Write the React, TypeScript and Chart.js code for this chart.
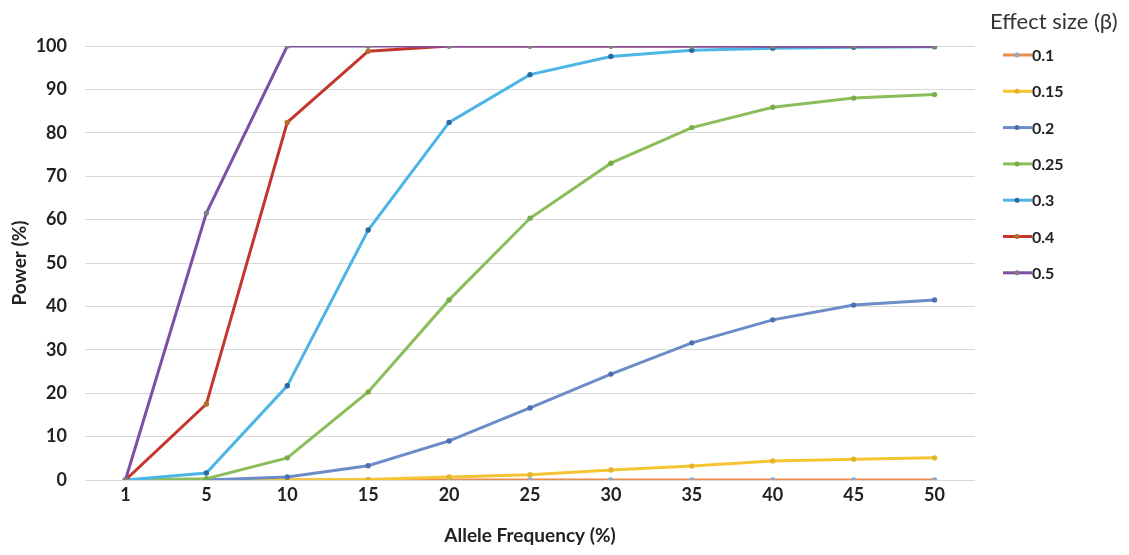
import React, { useEffect, useRef } from "react";
import { Chart, registerables } from "chart.js";

Chart.register(...registerables);

const categories = ["1", "5", "10", "15", "20", "25", "30", "35", "40", "45", "50"];
const seriesNames = ["0.1", "0.15", "0.2", "0.25", "0.3", "0.4", "0.5"];
const beta01 = [0, 0, 0, 0, 0, 0, 0, 0, 0, 0, 0];
const beta015 = [0, 0, 0, 0.1, 0.7, 1.2, 2.3, 3.2, 4.4, 4.8, 5.1];
const beta02 = [0, 0, 0.7, 3.3, 9, 16.6, 24.4, 31.6, 36.9, 40.3, 41.5];
const beta025 = [0, 0.3, 5.1, 20.3, 41.5, 60.3, 73, 81.2, 85.9, 88, 88.8];
const beta03 = [0, 1.6, 21.7, 57.6, 82.4, 93.4, 97.6, 99, 99.5, 99.7, 99.8];
const beta04 = [0, 17.5, 82.4, 98.8, 100, 100, 100, 100, 100, 100, 100];
const beta05 = [0, 61.5, 100, 100, 100, 100, 100, 100, 100, 100, 100];
const yTicks = [0, 10, 20, 30, 40, 50, 60, 70, 80, 90, 100];

const lineColors = ["#E98D4E", "#F4C432", "#6C8CC7", "#8BBE5B", "#4DB5E5", "#C4352C", "#7F4FA3"];
const pointColors = ["#8FA9C7", "#E3B42A", "#4B6FB0", "#79AC4B", "#2B6A9E", "#B0702A", "#808080"];

const FONT = "Lato, 'Open Sans', sans-serif";

const legendPlugin = {
  id: "customLegend",
  afterDraw(chart: any) {
    const ctx = chart.ctx;
    ctx.save();
    ctx.fillStyle = "#333";
    ctx.font = `22px ${FONT}`;
    ctx.textBaseline = "middle";
    ctx.textAlign = "left";
    ctx.fillText("Effect size (β)", 990, 22);
    chart.data.datasets.forEach((ds: any, i: number) => {
      const y = 55 + i * 36.3;
      ctx.strokeStyle = ds.borderColor;
      ctx.lineWidth = 3;
      ctx.beginPath();
      ctx.moveTo(1003, y);
      ctx.lineTo(1032, y);
      ctx.stroke();
      ctx.fillStyle = ds.pointBackgroundColor;
      ctx.beginPath();
      ctx.arc(1017, y, 2.5, 0, Math.PI * 2);
      ctx.fill();
      ctx.fillStyle = "#222";
      ctx.font = `bold 16px ${FONT}`;
      ctx.fillText(ds.label, 1032, y + 1);
    });
    ctx.restore();
  },
};

export default function App() {
  const ref = useRef<HTMLCanvasElement>(null);
  useEffect(() => {
    if (!ref.current) return;
    const seriesData = [beta01, beta015, beta02, beta025, beta03, beta04, beta05];
    const chart = new Chart(ref.current, {
      type: "line",
      data: {
        labels: categories,
        datasets: seriesNames.map((name, i) => ({
          label: name,
          data: seriesData[i],
          order: seriesNames.length - i,
          borderColor: lineColors[i],
          backgroundColor: lineColors[i],
          pointBackgroundColor: pointColors[i],
          pointBorderColor: pointColors[i],
          pointRadius: 2.7,
          pointBorderWidth: 0,
          borderWidth: 3,
          tension: 0,
        })),
      },
      options: {
        animation: false,
        responsive: false,
        maintainAspectRatio: false,
        layout: { padding: { left: 0, top: 46, right: 1129 - 975, bottom: 8 } },
        plugins: {
          legend: { display: false },
          tooltip: { enabled: false },
        },
        scales: {
          x: {
            type: "category",
            offset: true,
            grid: { display: false, drawTicks: false },
            border: { display: false },
            ticks: { color: "#222", font: { family: FONT, size: 18, weight: "bold" }, padding: 4, maxRotation: 0 },
            title: {
              display: true,
              text: "Allele Frequency (%)",
              color: "#222",
              font: { family: FONT, size: 19, weight: "bold" },
              padding: { top: 0, bottom: 0 },
            },
            afterFit(scale: any) {
              scale.height = 555 - 480 - 8;
            },
          },
          y: {
            min: 0,
            max: 100,
            afterBuildTicks(scale: any) {
              scale.ticks = yTicks.map((v) => ({ value: v }));
            },
            grid: { color: "#D9D9D9", lineWidth: 1, drawTicks: false },
            border: { display: false },
            ticks: { color: "#222", font: { family: FONT, size: 18, weight: "bold" }, padding: 18 },
            title: {
              display: true,
              text: "Power (%)",
              color: "#222",
              font: { family: FONT, size: 19, weight: "bold" },
              padding: { top: 8, bottom: 0 },
            },
            afterFit(scale: any) {
              scale.width = 85;
            },
          },
        },
      },
      plugins: [legendPlugin],
    });
    return () => chart.destroy();
  }, []);
  return (
    <div style={{ position: "fixed", left: 0, top: 0, width: 1129, height: 555, background: "#fff" }}>
      <canvas ref={ref} width={1129} height={555} style={{ width: 1129, height: 555 }} />
    </div>
  );
}
